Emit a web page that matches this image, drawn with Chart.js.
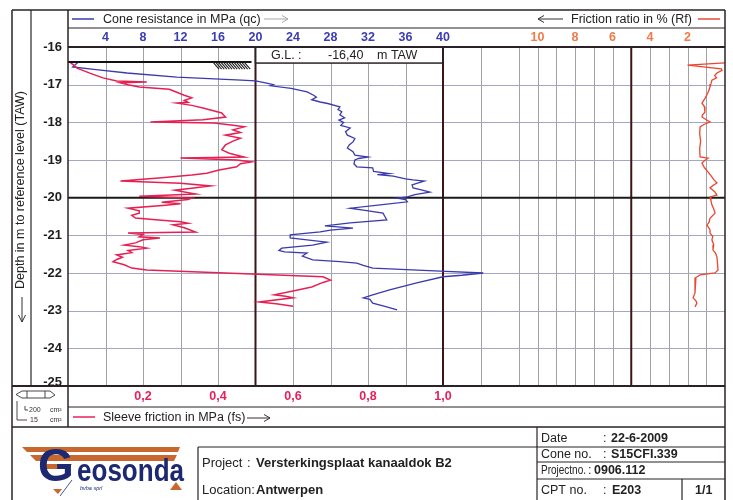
<!DOCTYPE html>
<html>
<head>
<meta charset="utf-8">
<script src="https://cdn.jsdelivr.net/npm/chart.js@4.4.0/dist/chart.umd.min.js"></script>
<style>
  html, body { margin: 0; padding: 0; background: #fff; }
  canvas { display: block; }
</style>
</head>
<body>
<canvas id="cptChart" width="733" height="500"></canvas>
<script>
// cone resistance qc (MPa) against depth (m TAW)
const qcDepth = [-16.40, -16.53, -16.60, -16.69, -16.80, -16.88, -16.90, -16.96, -17.00, -17.03, -17.10, -17.19, -17.28, -17.33, -17.40, -17.46, -17.50, -17.59, -17.66, -17.72, -17.80, -17.88, -17.94, -18.00, -18.08, -18.15, -18.25, -18.34, -18.43, -18.52, -18.60, -18.68, -18.78, -18.87, -18.92, -18.96, -19.00, -19.10, -19.18, -19.21, -19.30, -19.36, -19.39, -19.43, -19.50, -19.53, -19.56, -19.62, -19.66, -19.74, -19.80, -19.85, -19.92, -19.98, -20.01, -20.05, -20.11, -20.19, -20.28, -20.33, -20.41, -20.50, -20.59, -20.67, -20.75, -20.81, -20.86, -20.91, -20.99, -21.07, -21.12, -21.18, -21.26, -21.34, -21.40, -21.44, -21.47, -21.55, -21.65, -21.70, -21.74, -21.80, -21.87, -21.95, -22.00, -22.06, -22.10, -22.26, -22.45, -22.58, -22.66, -22.70, -22.80, -22.90, -22.98];
const qcValue = [1.1, 0.5, 3.0, 6.3, 11.6, 18.5, 20.0, 21.2, 21.9, 21.6, 23.8, 25.5, 26.2, 26.5, 26.0, 26.9, 27.7, 29.0, 28.8, 29.2, 29.0, 29.5, 28.9, 29.4, 29.1, 30.1, 29.6, 29.8, 30.6, 30.4, 30.0, 29.8, 30.4, 30.6, 32.0, 31.0, 30.6, 30.5, 30.8, 32.5, 32.6, 34.3, 33.0, 34.7, 36.0, 36.8, 38.0, 37.2, 36.7, 36.8, 37.8, 38.6, 37.0, 36.2, 35.1, 36.0, 36.2, 33.3, 30.1, 31.5, 33.6, 33.8, 34.0, 30.1, 27.4, 30.4, 28.0, 26.9, 23.7, 23.7, 25.5, 27.6, 26.1, 22.8, 22.5, 23.1, 25.5, 25.0, 26.1, 29.0, 30.8, 31.5, 32.5, 39.7, 44.3, 42.0, 40.0, 37.2, 34.3, 32.5, 31.5, 32.2, 32.5, 34.0, 35.1];

// sleeve friction fs (MPa) against depth
const fsDepth = [-16.40, -16.48, -16.56, -16.70, -16.82, -16.90, -16.93, -16.95, -17.00, -17.06, -17.12, -17.20, -17.28, -17.35, -17.42, -17.47, -17.49, -17.55, -17.62, -17.75, -17.86, -17.93, -17.99, -18.02, -18.08, -18.12, -18.20, -18.27, -18.34, -18.42, -18.50, -18.60, -18.73, -18.82, -18.92, -18.95, -19.00, -19.05, -19.10, -19.18, -19.27, -19.35, -19.40, -19.47, -19.56, -19.62, -19.69, -19.75, -19.80, -19.90, -19.96, -20.01, -20.05, -20.12, -20.16, -20.20, -20.28, -20.35, -20.41, -20.47, -20.54, -20.60, -20.64, -20.68, -20.72, -20.80, -20.91, -20.94, -20.98, -21.04, -21.07, -21.12, -21.20, -21.26, -21.30, -21.34, -21.40, -21.46, -21.52, -21.58, -21.64, -21.70, -21.78, -21.87, -21.92, -22.10, -22.19, -22.25, -22.37, -22.48, -22.58, -22.62, -22.66, -22.77, -22.82, -22.88];
const fsValue = [0.005, 0.015, 0.024, 0.06, 0.093, 0.13, 0.21, 0.14, 0.16, 0.19, 0.27, 0.29, 0.31, 0.33, 0.31, 0.32, 0.29, 0.33, 0.36, 0.41, 0.42, 0.36, 0.22, 0.39, 0.44, 0.47, 0.44, 0.46, 0.42, 0.46, 0.44, 0.42, 0.41, 0.43, 0.47, 0.30, 0.45, 0.49, 0.46, 0.45, 0.40, 0.37, 0.33, 0.25, 0.14, 0.30, 0.38, 0.33, 0.285, 0.34, 0.19, 0.33, 0.32, 0.25, 0.30, 0.26, 0.16, 0.19, 0.19, 0.17, 0.18, 0.25, 0.30, 0.32, 0.28, 0.31, 0.34, 0.16, 0.20, 0.19, 0.245, 0.20, 0.18, 0.15, 0.19, 0.21, 0.16, 0.17, 0.13, 0.145, 0.13, 0.12, 0.15, 0.17, 0.21, 0.68, 0.70, 0.68, 0.65, 0.60, 0.55, 0.58, 0.60, 0.51, 0.56, 0.60];

// friction ratio Rf (%) against depth
const rfDepth = [-16.42, -16.48, -16.58, -16.62, -16.69, -16.76, -16.82, -16.88, -16.98, -17.06, -17.20, -17.35, -17.49, -17.58, -17.73, -17.80, -17.86, -17.93, -17.99, -18.05, -18.12, -18.30, -18.50, -18.70, -18.92, -18.95, -19.02, -19.08, -19.20, -19.32, -19.45, -19.52, -19.61, -19.68, -19.74, -19.84, -19.93, -19.98, -20.08, -20.19, -20.30, -20.41, -20.55, -20.65, -20.73, -20.85, -20.94, -21.03, -21.12, -21.25, -21.39, -21.48, -21.57, -21.75, -21.92, -22.00, -22.05, -22.12, -22.19, -22.35, -22.53, -22.66, -22.74, -22.80, -22.90];
const rfValue = [0.0, 2.0, 0.2, 0.16, 0.43, 0.55, 0.45, 0.7, 0.75, 0.8, 0.9, 1.05, 1.23, 1.1, 1.07, 1.2, 1.23, 1.0, 0.8, 1.1, 1.33, 1.35, 1.3, 1.35, 1.33, 0.9, 1.1, 1.23, 1.1, 0.9, 0.7, 0.6, 0.43, 0.65, 0.8, 0.55, 0.43, 0.8, 0.75, 0.7, 0.6, 0.53, 0.8, 0.85, 0.96, 0.8, 0.8, 0.65, 0.7, 0.6, 0.64, 0.5, 0.43, 0.4, 0.37, 0.53, 1.33, 1.55, 1.6, 1.6, 1.6, 1.7, 1.55, 1.5, 1.6];

const qcTicks = [4, 8, 12, 16, 20, 24, 28, 32, 36, 40];
const rfTicks = [10, 8, 6, 4, 2];
const fsTicks = [0.2, 0.4, 0.6, 0.8, 1.0];
const fsTickLabels = ['0,2', '0,4', '0,6', '0,8', '1,0'];
const depthTicks = [-16, -17, -18, -19, -20, -21, -22, -23, -24, -25];
const groundLevel = -16.40;

const FONT = '"Liberation Sans", Arial, sans-serif';

function pairs(depths, values) {
    return depths.map((d, i) => ({ x: values[i], y: d }));
}

function line(ctx, x1, y1, x2, y2, color, width) {
    ctx.beginPath();
    ctx.strokeStyle = color;
    ctx.lineWidth = width;
    ctx.moveTo(x1, y1);
    ctx.lineTo(x2, y2);
    ctx.stroke();
}

function text(ctx, str, x, y, font, color, align) {
    ctx.font = font;
    ctx.fillStyle = color;
    ctx.textAlign = align || 'left';
    ctx.textBaseline = 'middle';
    ctx.fillText(str, x, y);
}

// text squeezed into a given width
function fitText(ctx, str, x, y, font, color, width) {
    ctx.save();
    ctx.font = font;
    const w = ctx.measureText(str).width;
    ctx.translate(x, y);
    ctx.scale(Math.min(1, width / w), 1);
    text(ctx, str, 0, 0, font, color);
    ctx.restore();
}

function arrow(ctx, x1, x2, y, color) {
    // horizontal long arrow, head at x2
    const dir = x2 > x1 ? 1 : -1;
    line(ctx, x1, y, x2, y, color, 1);
    ctx.beginPath();
    ctx.moveTo(x2 - dir * 6, y - 3.5);
    ctx.lineTo(x2, y);
    ctx.lineTo(x2 - dir * 6, y + 3.5);
    ctx.stroke();
}

const cptLayout = {
    id: 'cptLayout',
    beforeDraw(chart) {
        const ctx = chart.ctx;
        const a = chart.chartArea;
        const y = chart.scales.y, xq = chart.scales.xq, xr = chart.scales.xr;
        ctx.save();
        ctx.fillStyle = '#fff';
        ctx.fillRect(0, 0, chart.width, chart.height);

        // fine grid
        for (let v = 4; v <= 44; v += 4) {
            if (v === 20 || v === 40) continue;
            const px = Math.round(xq.getPixelForValue(v)) + 0.5;
            line(ctx, px, a.top, px, a.bottom, '#a2a2a6', 1);
        }
        for (let r = 1; r <= 11; r++) {
            if (r === 5) continue;
            const px = Math.round(xr.getPixelForValue(r)) + 0.5;
            line(ctx, px, a.top, px, a.bottom, '#a2a2a6', 1);
        }
        depthTicks.forEach(d => {
            if (d === -16 || d === -25 || d === -20) return;
            const py = Math.round(y.getPixelForValue(d)) + 0.5;
            line(ctx, a.left, py, a.right, py, '#a4a6c2', 1);
        });

        // heavy lines
        [20, 40].forEach(v => {
            const px = xq.getPixelForValue(v);
            line(ctx, px, a.top, px, a.bottom, '#3a1616', 2);
        });
        const r5 = xr.getPixelForValue(5);
        line(ctx, r5, a.top, r5, a.bottom, '#3a1616', 2);
        const y20 = y.getPixelForValue(-20);
        line(ctx, a.left, y20, a.right, y20, '#1a1a1a', 2);
        ctx.restore();
    },
    afterDraw(chart) {
        const ctx = chart.ctx;
        const a = chart.chartArea;
        const y = chart.scales.y, xq = chart.scales.xq, xr = chart.scales.xr, xf = chart.scales.xf;
        ctx.save();
        const dark = '#2a2226';

        // ground level line and hatching
        const gl = y.getPixelForValue(groundLevel);
        const q20 = xq.getPixelForValue(20);
        line(ctx, a.left, gl, q20 - 4, gl, '#111', 2);
        ctx.beginPath();
        ctx.strokeStyle = '#222';
        ctx.lineWidth = 1.1;
        for (let hx = 213; hx <= 246; hx += 2.6) {
            ctx.moveTo(hx, gl);
            ctx.lineTo(hx + 6, gl + 7);
        }
        ctx.stroke();

        // G.L. box
        const q40 = xq.getPixelForValue(40);
        ctx.fillStyle = '#fff';
        ctx.fillRect(q20 + 1, a.top + 1, q40 - q20 - 2, gl - a.top);
        ctx.strokeStyle = dark;
        ctx.lineWidth = 1.5;
        ctx.strokeRect(q20, a.top, q40 - q20, gl - a.top + 1);
        text(ctx, 'G.L. :', 271, 55.5, '12.5px ' + FONT, '#222');
        text(ctx, '-16,40', 328, 55.5, '12.5px ' + FONT, '#222');
        text(ctx, 'm TAW', 377, 55.5, '12.5px ' + FONT, '#222');

        // frame lines
        line(ctx, 12, 10, 725, 10, dark, 1.5);
        line(ctx, 12, 10, 12, 500, dark, 1.5);
        line(ctx, 725, 10, 725, 500, dark, 1.5);
        line(ctx, 31, 10, 31, 386, dark, 1.2);
        line(ctx, a.left, 10, a.left, 427, dark, 1.5);
        line(ctx, a.left, 28, 725, 28, dark, 1.2);
        line(ctx, a.left, a.top, a.right, a.top, dark, 2);
        line(ctx, 12, a.bottom, a.right, a.bottom, dark, 2);
        line(ctx, a.left, 407, 725, 407, dark, 1.2);
        line(ctx, 12, 427, 725, 427, dark, 1.5);
        line(ctx, 198, 447, 725, 447, dark, 1.2);
        line(ctx, 198, 447, 198, 500, dark, 1.2);
        line(ctx, 537, 427, 537, 500, dark, 1.2);
        line(ctx, 537, 462, 725, 462, dark, 1.2);
        line(ctx, 537, 479, 725, 479, dark, 1.2);
        line(ctx, 682, 479, 682, 500, dark, 1.2);

        // header titles
        line(ctx, 72, 19, 94, 19, '#3b3bb0', 1.5);
        text(ctx, 'Cone resistance in MPa (qc)', 103, 19.5, '12.5px ' + FONT, '#222');
        arrow(ctx, 264, 288, 19, '#a8a8a8');
        arrow(ctx, 563, 538, 19, '#333');
        text(ctx, 'Friction ratio in % (Rf)', 571, 19.5, '12.5px ' + FONT, '#222');
        line(ctx, 698, 19, 720, 19, '#e84a3a', 1.5);

        // tick labels through the scales
        qcTicks.forEach(v => text(ctx, String(v), xq.getPixelForValue(v), 37.5, 'bold 12.5px ' + FONT, '#3c3cb4', 'center'));
        rfTicks.forEach(v => text(ctx, String(v), xr.getPixelForValue(v), 37.5, 'bold 12.5px ' + FONT, '#f07a48', 'center'));
        fsTicks.forEach((v, i) => text(ctx, fsTickLabels[i], xf.getPixelForValue(v), 397, 'bold 12.5px ' + FONT, '#e8205a', 'center'));
        depthTicks.forEach(d => {
            const py = y.getPixelForValue(d) + (d === -25 ? -4 : 0);
            text(ctx, String(d), 62, py, 'bold 13px ' + FONT, '#1e1e1e', 'right');
        });

        // bottom title
        line(ctx, 73, 417, 95, 417, '#e8205a', 1.5);
        text(ctx, 'Sleeve friction in MPa (fs)', 103, 417.5, '12.5px ' + FONT, '#222');
        arrow(ctx, 247, 270, 418, '#333');

        // vertical axis title
        ctx.save();
        ctx.translate(21, 190);
        ctx.rotate(-Math.PI / 2);
        text(ctx, 'Depth in m to reference level (TAW)', 0, 0, '12.5px ' + FONT, '#222', 'center');
        ctx.restore();
        ctx.beginPath();
        ctx.strokeStyle = '#333';
        ctx.lineWidth = 1;
        ctx.moveTo(22, 297); ctx.lineTo(22, 322);
        ctx.moveTo(18.5, 315); ctx.lineTo(22, 322); ctx.lineTo(25.5, 315);
        ctx.stroke();

        // cone symbol
        ctx.beginPath();
        ctx.strokeStyle = '#333';
        ctx.lineWidth = 0.9;
        ctx.moveTo(16, 394.5); ctx.lineTo(22, 391); ctx.lineTo(50, 391); ctx.lineTo(55, 395);
        ctx.lineTo(50, 398); ctx.lineTo(22, 398); ctx.closePath();
        ctx.moveTo(27, 391); ctx.lineTo(27, 398);
        ctx.moveTo(45, 391); ctx.lineTo(45, 398);
        ctx.moveTo(17, 401); ctx.lineTo(17, 420); ctx.lineTo(27, 420);
        ctx.moveTo(25, 406); ctx.lineTo(25, 410); ctx.lineTo(28, 410);
        ctx.stroke();
        text(ctx, '200', 29, 410, '7px ' + FONT, '#333');
        text(ctx, 'cm²', 50, 410, '7px ' + FONT, '#333');
        text(ctx, '15', 30, 420, '7px ' + FONT, '#333');
        text(ctx, 'cm²', 50, 420, '7px ' + FONT, '#333');

        // logo
        ctx.fillStyle = '#c8682e';
        ctx.beginPath();
        ctx.moveTo(22, 447); ctx.lineTo(180, 447); ctx.lineTo(178, 452); ctx.lineTo(27, 452); ctx.closePath();
        ctx.moveTo(30, 455); ctx.lineTo(177, 455); ctx.lineTo(174, 461); ctx.lineTo(36, 461); ctx.closePath();
        ctx.moveTo(40, 464); ctx.lineTo(72, 464); ctx.lineTo(68, 469); ctx.lineTo(46, 469); ctx.closePath();
        ctx.moveTo(170, 490); ctx.lineTo(176, 482); ctx.lineTo(182, 490); ctx.closePath();
        ctx.moveTo(53, 489); ctx.lineTo(62, 489); ctx.lineTo(58, 494); ctx.closePath();
        ctx.fill();
        ctx.fillStyle = '#1c2870';
        ctx.font = 'bold 46px ' + FONT;
        ctx.textAlign = 'left';
        ctx.textBaseline = 'alphabetic';
        ctx.fillText('G', 38, 481);
        ctx.save();
        ctx.translate(77, 481);
        ctx.scale(0.84, 1);
        ctx.font = 'bold 31px ' + FONT;
        ctx.fillText('eosonda', 0, 0);
        ctx.restore();
        line(ctx, 60, 496, 72, 480, '#1c2870', 0.8);
        text(ctx, 'bvba sprl', 80, 488, 'italic 5.5px ' + FONT, '#1c2870');

        // project block
        text(ctx, 'Project', 202, 463.5, '13px ' + FONT, '#222');
        text(ctx, ':', 247, 463.5, '13px ' + FONT, '#222');
        text(ctx, 'Versterkingsplaat kanaaldok B2', 256, 463.5, 'bold 13px ' + FONT, '#222');
        text(ctx, 'Location:', 202, 490.5, '13px ' + FONT, '#222');
        text(ctx, 'Antwerpen', 256, 490.5, 'bold 13px ' + FONT, '#222');

        text(ctx, 'Date', 541, 438.5, '12.5px ' + FONT, '#222');
        text(ctx, ':', 603, 438.5, '12.5px ' + FONT, '#222');
        text(ctx, '22-6-2009', 611, 438.5, 'bold 12.5px ' + FONT, '#222');
        text(ctx, 'Cone no.', 541, 454.5, '12.5px ' + FONT, '#222');
        text(ctx, ':', 603, 454.5, '12.5px ' + FONT, '#222');
        text(ctx, 'S15CFI.339', 611, 454.5, 'bold 12.5px ' + FONT, '#222');
        fitText(ctx, 'Projectno.', 541, 470.5, '12.5px ' + FONT, '#222', 45);
        text(ctx, ':', 588, 470.5, '12.5px ' + FONT, '#222');
        text(ctx, '0906.112', 594, 470.5, 'bold 12.5px ' + FONT, '#222');
        text(ctx, 'CPT no.', 541, 490.5, '12.5px ' + FONT, '#222');
        text(ctx, ':', 603, 490.5, '12.5px ' + FONT, '#222');
        text(ctx, 'E203', 612, 490.5, 'bold 12.5px ' + FONT, '#222');
        text(ctx, '1/1', 695, 490.5, 'bold 12.5px ' + FONT, '#222');
        ctx.restore();
    }
};

new Chart(document.getElementById('cptChart').getContext('2d'), {
    type: 'scatter',
    data: {
        datasets: [{
            label: 'Sleeve friction in MPa (fs)',
            data: pairs(fsDepth, fsValue),
            xAxisID: 'xf',
            borderColor: '#e62052',
            borderWidth: 1.5
        }, {
            label: 'Cone resistance in MPa (qc)',
            data: pairs(qcDepth, qcValue),
            xAxisID: 'xq',
            borderColor: '#3a3aae',
            borderWidth: 1.3
        }, {
            label: 'Friction ratio in % (Rf)',
            data: pairs(rfDepth, rfValue),
            xAxisID: 'xr',
            borderColor: '#ec4630',
            borderWidth: 1.3
        }].map(ds => Object.assign(ds, { showLine: true, pointRadius: 0, tension: 0, fill: false }))
    },
    options: {
        responsive: false,
        animation: false,
        events: [],
        layout: { padding: { left: 68, top: 47, right: 8, bottom: 114 } },
        plugins: { legend: { display: false }, tooltip: { enabled: false } },
        scales: {
            y: { type: 'linear', min: -25, max: -16, display: false },
            xq: { type: 'linear', axis: 'x', min: 0, max: 70.08, display: false },
            xf: { type: 'linear', axis: 'x', min: 0, max: 1.752, display: false },
            xr: { type: 'linear', axis: 'x', min: 0, max: 35.04, reverse: true, display: false }
        }
    },
    plugins: [cptLayout]
});
</script>
</body>
</html>
